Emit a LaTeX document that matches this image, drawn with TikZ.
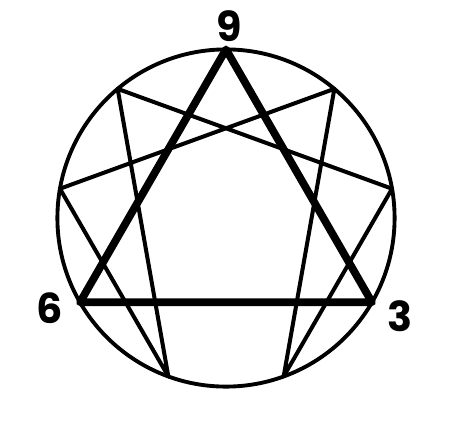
\documentclass[tikz,border=0pt]{standalone}
\usepackage{fontspec}
\usetikzlibrary{calc}
\newfontfamily\digitfont{Poppins}
\tikzset{every picture/.style={line width=0.75pt}}
\tikzset{
  ring/.style={line width=2.9pt},
  hexad/.style={line width=3pt,line join=round,line cap=round},
  triad/.style={line width=5.8pt,line join=round,line cap=round},
  digit/.style={inner sep=0.75pt,font=\digitfont\bfseries\fontsize{31}{31}\selectfont}
}

\begin{document}
\begin{tikzpicture}[x=0.75pt,y=0.75pt,yscale=-1,xscale=1]
\useasboundingbox (0,0) rectangle (451,430);

%Shape: Circle
\coordinate (c) at (226,218);
\draw [ring] (c) circle (168.6);
% nine points round the circle, 9 at the top (y runs down)
\foreach \n in {0,...,8}
  \coordinate (p\n) at ($(c)+({40*\n-90}:168.6)$);

%Straight Lines: hexad 1-4-2-8-5-7
\draw [hexad] (p1) -- (p4) -- (p2) -- (p8) -- (p5) -- (p7) -- cycle;
%Straight Lines: triangle 9-3-6
\draw [triad] (p0) -- (p3) -- (p6) -- cycle;

% Text Node
\node [digit] (nine) at (229,26) {9};
% Text Node
\node [digit] (six) at (50,308) {6};
% Text Node
\node [digit] (three) at (400,316) {3};

\end{tikzpicture}
\end{document}
